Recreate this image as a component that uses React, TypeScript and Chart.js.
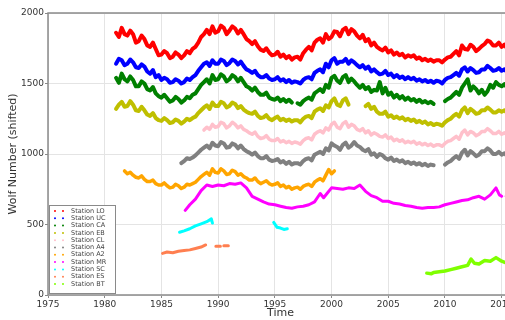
import { useEffect, useRef } from "react";
import { Chart, registerables } from "chart.js";

Chart.register(...registerables);

type Pt = [number, number | null];

const STATION_NAMES = [
  "Station LO", "Station UC", "Station CA", "Station EB", "Station CL", "Station A4",
  "Station A2", "Station MR", "Station SC", "Station ES", "Station BT",
];
const STATION_COLORS = [
  "#ff0000", "#0000ff", "#008000", "#bfbf00", "#ffc0cb", "#808080",
  "#ffa500", "#ff00ff", "#00ffff", "#ff7f50", "#7fff00",
];
const LINE_WIDTHS = [4, 4, 4, 4, 3.5, 4, 3.5, 3, 3, 3, 3.5];

const X_TICKS = [1975, 1980, 1985, 1990, 1995, 2000, 2005, 2010, 2015];
const Y_TICKS = [0, 500, 1000, 1500, 2000];

// Quarter-year readings (step 0.25 yr), null = gap
const QUARTER = 0.25;

const LO_START = 1981;
const LO_VALUES = [
  1860, 1830, 1895, 1850, 1840, 1875, 1850, 1790, 1800, 1840, 1815, 1770,
  1760, 1790, 1745, 1700, 1705, 1730, 1715, 1680, 1690, 1720, 1705, 1680,
  1700, 1730, 1715, 1745, 1760, 1790, 1830, 1850, 1880, 1850, 1905, 1860,
  1870, 1910, 1895, 1850, 1875, 1905, 1890, 1855, 1880, 1850, 1815, 1800,
  1780, 1800, 1765, 1740, 1730, 1750, 1720, 1700, 1705, 1725, 1690, 1705,
  1680, 1695, 1670, 1685, 1690, 1670, 1715, 1740, 1760, 1735, 1790, 1810,
  1820, 1790, 1850, 1815, 1830, 1870, 1865, 1835, 1880, 1895, 1850, 1885,
  1870, 1840, 1820, 1845, 1800, 1815, 1770, 1790, 1760, 1745, 1735, 1755,
  1720, 1735, 1705, 1720, 1700, 1710, 1685, 1700, 1690, 1700, 1675, 1685,
  1665, 1675, 1660, 1670, 1655, 1665, 1665, 1650, 1670, 1685, 1690, 1710,
  1730, 1700, 1770, 1745, 1740, 1775, 1760, 1730, 1745, 1765, 1780, 1805,
  1795, 1770, 1770, 1790, 1760, 1775, 1745, 1760,
];
const UC_START = 1981;
const UC_VALUES = [
  1640, 1675, 1665, 1630, 1640, 1670, 1650, 1615, 1610, 1635, 1620, 1585,
  1570, 1595, 1545, 1560, 1525, 1540, 1530, 1505, 1510, 1530, 1520, 1500,
  1510, 1535, 1525, 1545, 1560, 1590, 1615, 1640, 1650, 1625, 1665, 1640,
  1640, 1670, 1660, 1630, 1645, 1670, 1660, 1635, 1655, 1625, 1600, 1590,
  1575, 1590, 1560, 1545, 1545, 1560, 1535, 1525, 1530, 1545, 1520, 1530,
  1510, 1525, 1505, 1515, 1510, 1500, 1525, 1540, 1545, 1530, 1575, 1590,
  1600, 1580, 1640, 1615, 1665, 1680, 1640, 1655, 1655, 1675, 1640, 1665,
  1650, 1630, 1615, 1630, 1605, 1620, 1585, 1600, 1580, 1565, 1570, 1590,
  1560, 1570, 1545, 1560, 1540, 1550, 1530, 1545, 1530, 1540, 1520, 1530,
  1515, 1525, 1510, 1520, 1505, 1520, 1515, 1500, 1525, 1540, 1545, 1560,
  1575, 1555, 1600, 1615, 1585, 1610, 1595, 1575, 1580, 1600, 1600, 1625,
  1610, 1590, 1595, 1610, 1590, 1600, 1580, 1590,
];
const CA_START = 1981;
const CA_VALUES = [
  1540, 1505, 1570, 1530, 1515, 1550, 1525, 1480, 1480, 1515, 1500, 1460,
  1450, 1475, 1430, 1410, 1400, 1420, 1395, 1370, 1380, 1405, 1390, 1365,
  1380, 1405, 1395, 1420, 1430, 1460, 1490, 1510, 1530, 1500, 1560, 1525,
  1530, 1565, 1550, 1515, 1530, 1560, 1545, 1515, 1540, 1510, 1480, 1470,
  1450, 1470, 1440, 1420, 1420, 1435, 1400, 1390, 1385, 1400, 1375, 1390,
  1370, 1385, 1365, null, 1360, 1350, 1375, 1390, 1400, 1385, 1430, 1445,
  1460, 1440, 1490, 1470, 1540, 1555, 1520, 1505, 1545, 1560, 1510, 1535,
  1515, 1490, 1470, 1490, 1460, 1475, 1440, 1455, 1450, 1510, 1430, 1470,
  1420, 1435, 1400, 1420, 1395, 1410, 1385, 1400, 1380, 1390, 1370, 1385,
  1365, 1375, 1360, 1370, 1355, null, null, null, 1375, 1390, 1400, 1420,
  1440, 1420, 1470, 1500, 1530, 1450, 1480, 1460, 1430, 1455, 1420, 1445,
  1490, 1470, 1510, 1490, 1480, 1495, 1470, 1480,
];
const EB_START = 1981;
const EB_VALUES = [
  1320, 1350, 1370, 1335, 1340, 1375, 1350, 1310, 1305, 1335, 1310, 1280,
  1270, 1290, 1255, 1240, 1235, 1255, 1240, 1220, 1225, 1245, 1235, 1215,
  1230, 1250, 1240, 1255, 1265, 1290, 1310, 1330, 1345, 1320, 1365, 1340,
  1340, 1370, 1360, 1330, 1340, 1365, 1355, 1325, 1340, 1315, 1300, 1290,
  1285, 1300, 1270, 1255, 1260, 1275, 1250, 1240, 1255, 1265, 1240, 1250,
  1235, 1245, 1230, 1240, 1240, 1225, 1250, 1265, 1270, 1255, 1300, 1315,
  1325, 1305, 1345, 1330, 1375, 1395, 1350, 1340, 1380, 1395, 1350, null,
  null, null, null, null, 1340, 1355, 1320, 1335, 1300, 1285, 1285, 1300,
  1265, 1275, 1255, 1265, 1250, 1260, 1240, 1250, 1235, 1245, 1225, 1235,
  1220, 1230, 1210, 1220, 1205, 1215, 1210, 1200, 1225, 1240, 1250, 1270,
  1285, 1265, 1310, 1330, 1290, 1320, 1305, 1285, 1290, 1310, 1310, 1330,
  1315, 1295, 1295, 1310, 1300, 1310, 1290, 1300,
];
const CL_START = 1988.75;
const CL_VALUES = [
  1170,
  1190, 1175, 1210, 1190, 1195, 1225, 1215, 1185, 1200, 1225, 1210, 1185,
  1200, 1175, 1165, 1150, 1140, 1155, 1125, 1110, 1115, 1130, 1105, 1095,
  1095, 1110, 1085, 1095, 1080, 1090, 1075, 1085, 1080, 1070, 1095, 1110,
  1115, 1100, 1140, 1155, 1165, 1150, 1185, 1170, 1210, 1225, 1190, 1180,
  1215, 1230, 1190, 1210, 1200, 1175, 1165, 1180, 1150, 1165, 1135, 1150,
  1140, 1125, 1120, 1135, 1110, 1120, 1095, 1105, 1090, 1100, 1080, 1090,
  1080, 1090, 1070, 1080, 1065, 1075, 1060, 1070, 1055, 1065, 1065, 1055,
  1075, 1090, 1095, 1110, 1125, 1105, 1150, 1170, 1135, 1160, 1150, 1130,
  1140, 1160, 1160, 1180, 1165, 1145, 1145, 1160, 1140, 1150, 1135, 1145,
];
const A4_START = 1986.75;
const A4_VALUES = [
  935,
  950, 970, 965, 975, 990, 1010, 1030, 1045, 1060, 1040, 1080, 1060,
  1055, 1085, 1075, 1045, 1050, 1075, 1065, 1040, 1060, 1035, 1020, 1010,
  995, 1010, 985, 970, 970, 985, 960, 950, 955, 965, 940, 950,
  930, 945, 925, 935, 935, 925, 950, 965, 970, 955, 995, 1005,
  1015, 1000, 1040, 1025, 1075, 1060, 1050, 1030, 1065, 1080, 1045, 1060,
  1085, 1060, 1050, 1030, 1020, 1035, 995, 1005, 980, 1000, 990, 970,
  960, 975, 950, 960, 945, 955, 935, 945, 930, 940, 925, 935,
  920, 930, 915, 925, 920, null, null, null, 925, 940, 950, 970,
  985, 965, 1010, 1030, 990, 1020, 1005, 985, 995, 1020, 1020, 1040,
  1025, 1000, 1000, 1015, 995, 1005, 985, 995,
];
const A2_START = 1981.75;
const A2_VALUES = [
  880,
  860, 870, 850, 835, 830, 845, 820, 805, 805, 815, 790, 780,
  780, 795, 775, 760, 765, 785, 775, 755, 765, 785, 780, 790,
  800, 820, 840, 855, 870, 850, 895, 870, 865, 895, 880, 855,
  860, 885, 875, 850, 860, 840, 830, 815, 815, 830, 805, 790,
  800, 810, 790, 780, 785, 795, 770, 780, 760, 770, 750, 760,
  765, 750, 770, 780, 785, 770, 800, 815, 825, 810, 850, 890,
  860, 880,
];

const MR: Pt[] = [
  [1987.1, 600], [1987.5, 640], [1988.0, 680], [1988.5, 740], [1989.0, 780], [1989.5, 770],
  [1990.0, 780], [1990.5, 775], [1991.0, 790], [1991.5, 785], [1992.0, 795], [1992.5, 760],
  [1993.0, 700], [1993.5, 680], [1994.0, 660], [1994.5, 645], [1995.0, 640], [1995.5, 630],
  [1996.0, 620], [1996.5, 615], [1997.0, 625], [1997.5, 630], [1998.0, 640], [1998.5, 660],
  [1999.0, 720], [1999.3, 690], [1999.6, 720], [2000.0, 760], [2000.5, 755], [2001.0, 750],
  [2001.5, 760], [2002.0, 755], [2002.5, 780], [2003.0, 735], [2003.5, 705], [2004.0, 690],
  [2004.5, 665], [2005.0, 665], [2005.5, 650], [2006.0, 645], [2006.5, 635], [2007.0, 630],
  [2007.5, 620], [2008.0, 615], [2008.5, 620], [2009.0, 620], [2009.5, 625], [2010.0, 640],
  [2010.5, 650], [2011.0, 660], [2011.5, 670], [2012.0, 675], [2012.5, 690], [2013.0, 700],
  [2013.5, 680], [2014.0, 710], [2014.5, 760], [2014.8, 710], [2015.0, 700], [2015.2, null],
  [2015.4, 700], [2015.5, 702], [2015.6, null], [2015.8, 705], [2015.9, 704],
];
const SC: Pt[] = [
  [1986.6, 445], [1987.0, 455], [1987.5, 470], [1988.0, 490], [1988.5, 505], [1989.0, 520],
  [1989.4, 540], [1989.5, 510], [1990.0, null], [1994.9, 515], [1995.2, 480], [1995.5, 475],
  [1995.8, 465], [1996.1, 470],
];
const ES: Pt[] = [
  [1985.1, 295], [1985.5, 305], [1986.0, 300], [1986.5, 310], [1987.0, 315], [1987.5, 320],
  [1988.0, 330], [1988.5, 340], [1988.9, 355], [1989.3, null], [1989.8, 345], [1990.2, 345],
  [1990.35, null], [1990.5, 350], [1990.9, 350],
];
const BT: Pt[] = [
  [2008.4, 155], [2008.8, 150], [2009.0, 160], [2009.5, 165], [2010.0, 170], [2010.5, 180],
  [2011.0, 190], [2011.5, 200], [2012.0, 210], [2012.3, 255], [2012.6, 225], [2013.0, 220],
  [2013.5, 245], [2014.0, 240], [2014.5, 265], [2015.0, 240], [2015.5, 225], [2015.9, 205],
];

const quarterly = (start: number, values: (number | null)[]) =>
  values.map((y, i) => ({ x: start + i * QUARTER, y }));
const pairs = (pts: Pt[]) => pts.map(([x, y]) => ({ x, y }));

const FONT = "'DejaVu Sans', sans-serif";

const framePlugin = {
  id: "frame",
  afterDatasetsDraw(chart: any) {
    const { ctx, chartArea } = chart;
    const { left, top, right, bottom } = chartArea;
    ctx.save();
    ctx.strokeStyle = "#8a8a8a";
    ctx.lineWidth = 1.5;
    ctx.strokeRect(left, top, right - left, bottom - top);

    const bx = left + 1;
    const by = bottom - 90;
    const bw = 66;
    const bh = 88;
    ctx.fillStyle = "rgba(255,255,255,0.95)";
    ctx.fillRect(bx, by, bw, bh);
    ctx.strokeStyle = "#8a8a8a";
    ctx.lineWidth = 1;
    ctx.strokeRect(bx + 0.5, by + 0.5, bw, bh);
    ctx.font = `6.5px ${FONT}`;
    ctx.textBaseline = "middle";
    ctx.textAlign = "left";
    STATION_NAMES.forEach((name, i) => {
      const y = by + 6 + i * 7.3;
      ctx.fillStyle = STATION_COLORS[i];
      ctx.beginPath();
      ctx.arc(bx + 6, y, 1, 0, Math.PI * 2);
      ctx.arc(bx + 14, y, 1, 0, Math.PI * 2);
      ctx.fill();
      ctx.fillStyle = "#444";
      ctx.fillText(name, bx + 22, y);
    });
    ctx.restore();
  },
};

export default function App() {
  const ref = useRef<HTMLCanvasElement | null>(null);

  useEffect(() => {
    if (!ref.current) return;
    const seriesData = [
      quarterly(LO_START, LO_VALUES),
      quarterly(UC_START, UC_VALUES),
      quarterly(CA_START, CA_VALUES),
      quarterly(EB_START, EB_VALUES),
      quarterly(CL_START, CL_VALUES),
      quarterly(A4_START, A4_VALUES),
      quarterly(A2_START, A2_VALUES),
      pairs(MR),
      pairs(SC),
      pairs(ES),
      pairs(BT),
    ];
    const chart = new Chart(ref.current, {
      type: "line",
      data: {
        datasets: seriesData.map((data, i) => ({
          label: STATION_NAMES[i],
          data,
          borderColor: STATION_COLORS[i],
          backgroundColor: STATION_COLORS[i],
          borderWidth: LINE_WIDTHS[i],
          pointRadius: 0,
          tension: 0,
          spanGaps: false,
          borderJoinStyle: "round" as const,
          borderCapStyle: "round" as const,
        })),
      },
      options: {
        animation: false,
        responsive: false,
        layout: { padding: { top: 13, right: 7, left: 0, bottom: 0 } },
        plugins: { legend: { display: false }, tooltip: { enabled: false } },
        scales: {
          x: {
            type: "linear",
            min: 1975,
            max: 2016,
            afterFit: (s: any) => { s.height = 25; },
            afterBuildTicks: (s: any) => { s.ticks = X_TICKS.map((v) => ({ value: v })); },
            ticks: {
              font: { family: FONT, size: 9 },
              color: "#333",
              padding: 1,
              maxRotation: 0,
              callback: (v: any) => String(v),
            },
            grid: { color: "#e4e4e4", tickLength: 3, tickColor: "#888" },
            border: { display: false },
            title: { display: true, text: "Time", font: { family: FONT, size: 11 }, color: "#333", padding: { top: 0, bottom: 0 } },
          },
          y: {
            type: "linear",
            min: 0,
            max: 2000,
            afterFit: (s: any) => { s.width = 48; },
            afterBuildTicks: (s: any) => { s.ticks = Y_TICKS.map((v) => ({ value: v })); },
            ticks: {
              font: { family: FONT, size: 9 },
              color: "#333",
              padding: 1,
              callback: (v: any) => String(v),
            },
            grid: { color: "#e4e4e4", tickLength: 3, tickColor: "#888" },
            border: { display: false },
            title: { display: true, text: "Wolf Number (shifted)", font: { family: FONT, size: 11 }, color: "#333", padding: { top: 7, bottom: 0 } },
          },
        },
      },
      plugins: [framePlugin],
    });
    return () => chart.destroy();
  }, []);

  return (
    <div style={{ position: "fixed", left: 0, top: 0, width: 505, height: 320, overflow: "hidden", background: "#fff" }}>
      <canvas ref={ref} width={520} height={320} style={{ display: "block" }} />
    </div>
  );
}
